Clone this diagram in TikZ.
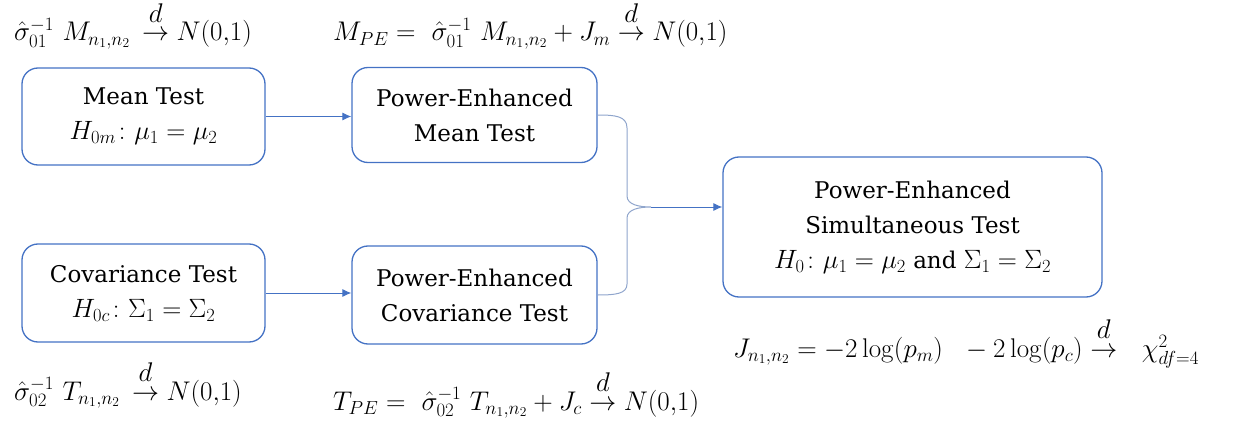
\documentclass[tikz,border=0pt]{standalone}
\usepackage{fix-cm}
\usepackage{amsmath}
\usepackage[no-math]{fontspec}
\setmainfont{DejaVu Serif}
\usetikzlibrary{arrows.meta}
\definecolor{boxblue}{HTML}{4472C4}
\definecolor{bracecol}{HTML}{8FA5CC}
\newcommand{\mth}[1]{{\fontsize{26.5}{36}\selectfont$#1$}}
\newcommand{\cvg}{\mathrel{\overset{\raisebox{4pt}{$d$}}{\rightarrow}}}
\tikzset{
  tbox/.style={draw=boxblue, line width=1.3pt, rounded corners=16pt, align=center,
    inner sep=0pt, font=\fontsize{23}{35}\selectfont},
  arr/.style={draw=boxblue, line width=0.9pt, -{Latex[length=9pt,width=8pt]}},
  bracestyle/.style={draw=bracecol, line width=1pt},
  formula/.style={anchor=base west, inner sep=0pt, font=\fontsize{27}{30}\selectfont}
}
\begin{document}
\begin{tikzpicture}[x=1pt,y=-1pt]
\useasboundingbox (0,0) rectangle (1247,425);
\node[tbox, minimum width=243pt, minimum height=97pt] (mean) at (143.5,116.5) {Mean Test\\\mth{H_{0m}\colon\mu_1=\mu_2}};
\node[tbox, minimum width=245pt, minimum height=95pt] (pem) at (474.5,115) {Power-Enhanced\\Mean Test};
\node[tbox, minimum width=243pt, minimum height=98pt] (cov) at (143.5,293) {Covariance Test\\\mth{H_{0c}\colon\Sigma_1=\Sigma_2}};
\node[tbox, minimum width=245pt, minimum height=98pt] (pec) at (474.5,295) {Power-Enhanced\\Covariance Test};
\node[tbox, minimum width=379pt, minimum height=140pt] (fin) at (912.5,227) {Power-Enhanced\\Simultaneous Test\\\mth{H_0\colon\mu_1=\mu_2} and \mth{\Sigma_1=\Sigma_2}};

\draw[arr] (mean.east) -- (mean.east -| pem.west);
\draw[arr] (cov.east) -- (cov.east -| pec.west);

\coordinate (tip) at (651,207);
\draw[bracestyle] (pem.east) .. controls (615,115) and (627,116) .. (627,128) -- (627,196)
  .. controls (627,205) and (640,207) .. (tip)
  .. controls (640,207) and (627,209) .. (627,218) -- (627,284)
  .. controls (627,294) and (615,295) .. (pec.east);
\draw[arr] (tip) -- (tip -| fin.west);

\node[formula] (f1) at (14,41) {$\hat\sigma_{01}^{-1}\ M_{n_1,n_2}\, \cvg N(0{,}1)$};
\node[formula] (f2) at (333,41) {$M_{PE} =\ \hat\sigma_{01}^{-1}\ M_{n_1,n_2} + J_m \cvg N(0{,}1)$};
\node[formula] (f3) at (14,400) {$\hat\sigma_{02}^{-1}\ T_{n_1,n_2}\, \cvg N(0{,}1)$};
\node[formula] (f4) at (333,410) {$T_{PE} =\ \hat\sigma_{02}^{-1}\ T_{n_1,n_2} + J_c \cvg N(0{,}1)$};
\node[formula] (f5) at (733,357) {$J_{n_1,n_2} = -2\log(p_m)\ \ -2\log(p_c) \cvg\ \ \chi^2_{df=4}$};
\end{tikzpicture}
\end{document}
